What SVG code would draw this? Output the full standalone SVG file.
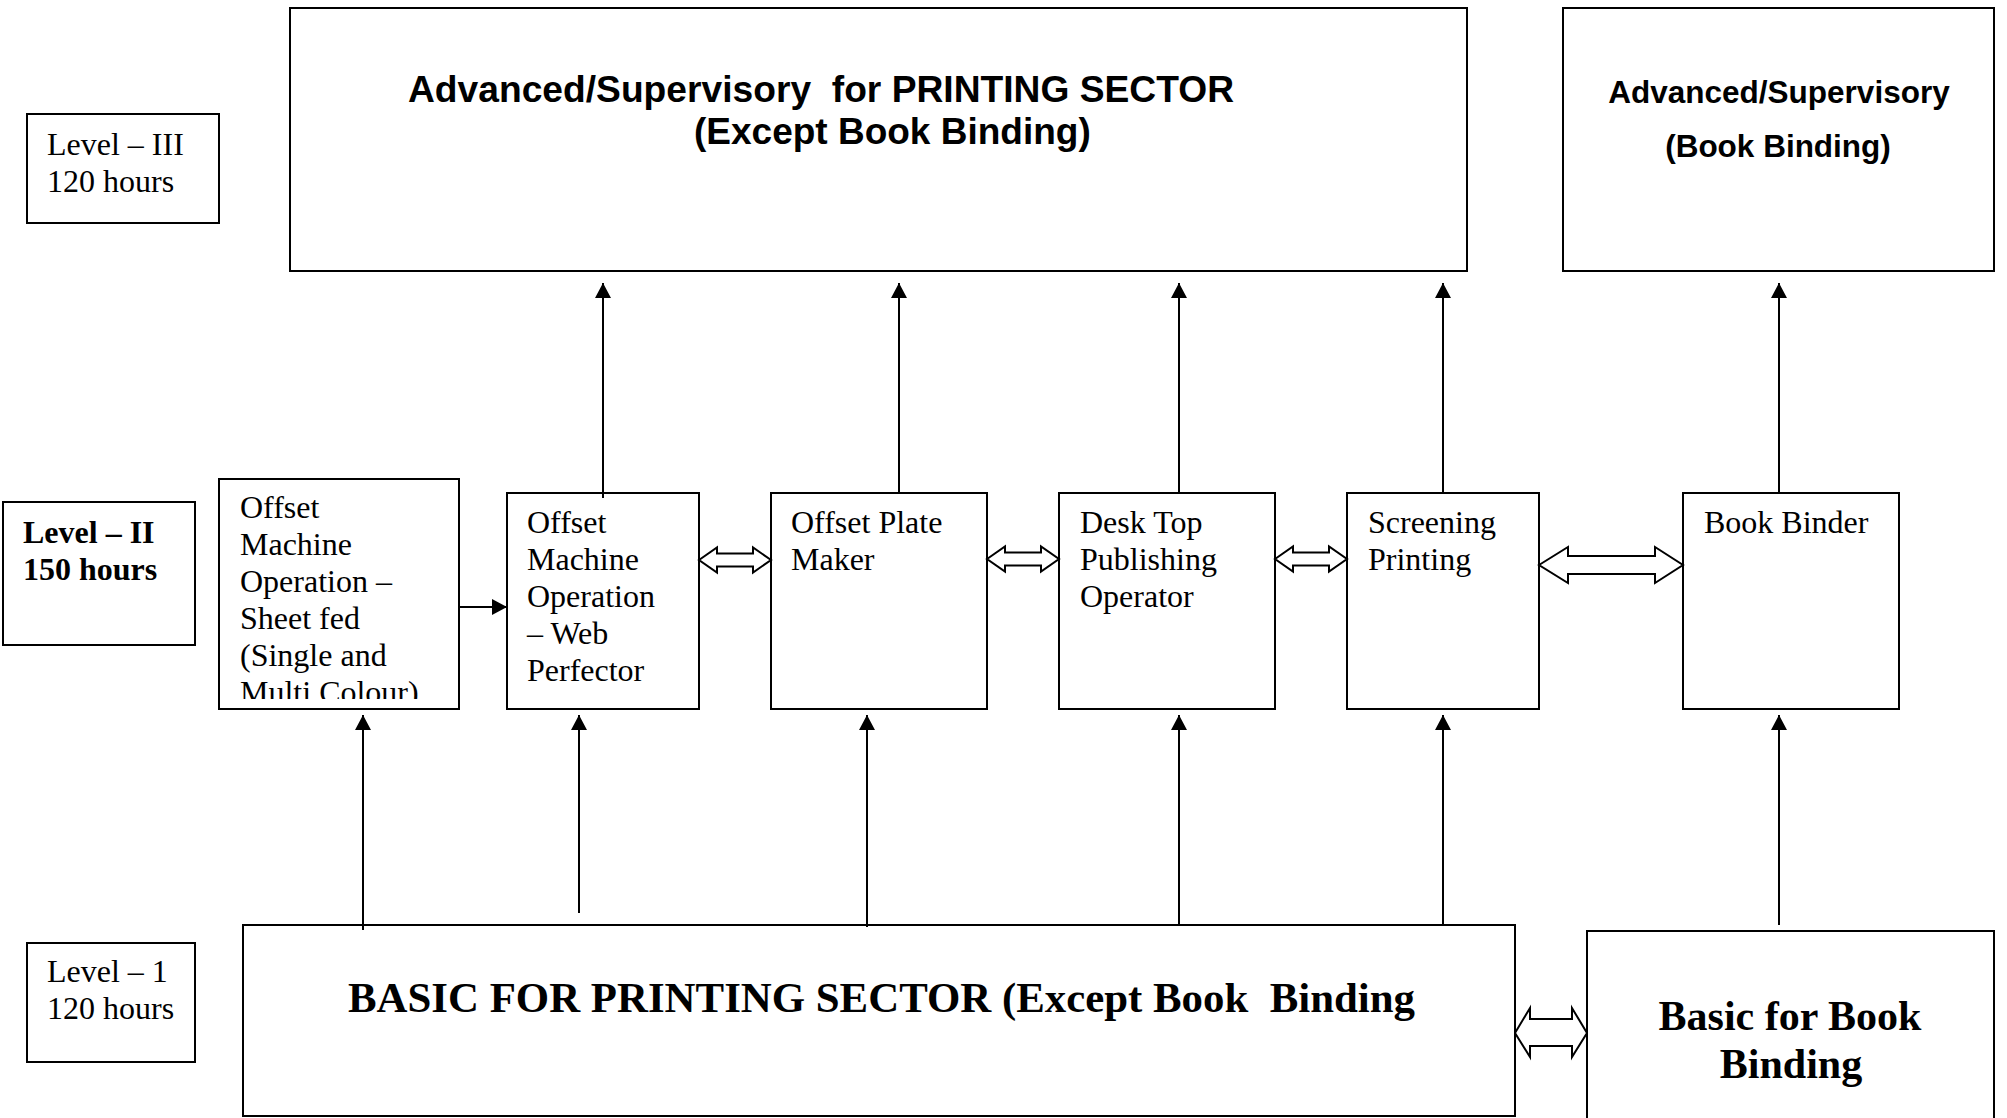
<svg xmlns="http://www.w3.org/2000/svg" width="2007" height="1118" viewBox="0 0 2007 1118">
<style>
.box{fill:#fff;stroke:#000;stroke-width:2}
.t{font-family:"Liberation Serif","Times New Roman",serif;font-size:32px;fill:#000}
.tb{font-family:"Liberation Serif","Times New Roman",serif;font-weight:bold;fill:#000;white-space:pre}
.sb{font-family:"Liberation Sans",Arial,sans-serif;font-weight:bold;fill:#000;white-space:pre}
.ln{stroke:#000;stroke-width:2;fill:none}
.hol{fill:#fff;stroke:#000;stroke-width:2;stroke-linejoin:miter}
</style>
<defs>
<marker id="ah" viewBox="0 0 15 16" refX="15" refY="8" markerWidth="15" markerHeight="16" markerUnits="userSpaceOnUse" orient="auto">
<path d="M0,0 L15,8 L0,16 Z" fill="#000"/>
</marker>
<path id="dbl" d="M0,0 L18,-12.5 L18,-6.5 L54,-6.5 L54,-12.5 L72,0 L54,12.5 L54,6.5 L18,6.5 L18,12.5 Z"/>
<clipPath id="clipSheet"><rect x="219" y="479" width="240" height="220"/></clipPath>
</defs>
<rect width="2007" height="1118" fill="#fff"/>

<g id="level3">
<rect class="box" x="27" y="114" width="192" height="109"/>
<text class="t" x="47" y="155">Level – III</text>
<text class="t" x="47" y="192">120 hours</text>
</g>

<g id="adv-printing">
<rect class="box" x="290" y="8" width="1177" height="263"/>
<text class="sb" x="408" y="102" font-size="37" textLength="826" lengthAdjust="spacingAndGlyphs">Advanced/Supervisory  for PRINTING SECTOR</text>
<text class="sb" x="694" y="144" font-size="37">(Except Book Binding)</text>
</g>

<g id="adv-bookbinding">
<rect class="box" x="1563" y="8" width="431" height="263"/>
<text class="sb" x="1779" y="103" font-size="31.5" text-anchor="middle">Advanced/Supervisory</text>
<text class="sb" x="1778" y="157" font-size="31.5" text-anchor="middle">(Book Binding)</text>
</g>

<g id="level2">
<rect class="box" x="3" y="502" width="192" height="143"/>
<text class="tb" x="23" y="543" font-size="32">Level – II</text>
<text class="tb" x="23" y="580" font-size="32">150 hours</text>
</g>

<g id="offset-sheet-fed">
<rect class="box" x="219" y="479" width="240" height="230"/>
<g clip-path="url(#clipSheet)">
<text class="t" x="240" y="518">Offset</text>
<text class="t" x="240" y="555">Machine</text>
<text class="t" x="240" y="592">Operation –</text>
<text class="t" x="240" y="629">Sheet fed</text>
<text class="t" x="240" y="666">(Single and</text>
<text class="t" x="240" y="703">Multi Colour)</text>
</g>
</g>

<g id="offset-web">
<rect class="box" x="507" y="493" width="192" height="216"/>
<text class="t" x="527" y="533">Offset</text>
<text class="t" x="527" y="570">Machine</text>
<text class="t" x="527" y="607">Operation</text>
<text class="t" x="527" y="644">– Web</text>
<text class="t" x="527" y="681">Perfector</text>
</g>

<g id="plate-maker">
<rect class="box" x="771" y="493" width="216" height="216"/>
<text class="t" x="791" y="533">Offset Plate</text>
<text class="t" x="791" y="570">Maker</text>
</g>

<g id="dtp">
<rect class="box" x="1059" y="493" width="216" height="216"/>
<text class="t" x="1080" y="533">Desk Top</text>
<text class="t" x="1080" y="570">Publishing</text>
<text class="t" x="1080" y="607">Operator</text>
</g>

<g id="screening">
<rect class="box" x="1347" y="493" width="192" height="216"/>
<text class="t" x="1368" y="533">Screening</text>
<text class="t" x="1368" y="570">Printing</text>
</g>

<g id="book-binder">
<rect class="box" x="1683" y="493" width="216" height="216"/>
<text class="t" x="1704" y="533">Book Binder</text>
</g>

<g id="level1">
<rect class="box" x="27" y="943" width="168" height="119"/>
<text class="t" x="47" y="982">Level – 1</text>
<text class="t" x="47" y="1019">120 hours</text>
</g>

<g id="basic-printing">
<rect class="box" x="243" y="925" width="1272" height="191"/>
<text class="tb" x="348" y="1012" font-size="43" textLength="1067" lengthAdjust="spacingAndGlyphs">BASIC FOR PRINTING SECTOR (Except Book  Binding</text>
</g>

<g id="basic-bookbinding">
<rect class="box" x="1587" y="931" width="407" height="200"/>
<text class="tb" x="1790" y="1030" font-size="42" text-anchor="middle">Basic for Book</text>
<text class="tb" x="1791" y="1078" font-size="42" text-anchor="middle">Binding</text>
</g>

<g id="connectors">
<line class="ln" x1="603" y1="498" x2="603" y2="283" marker-end="url(#ah)"/>
<line class="ln" x1="899" y1="493" x2="899" y2="283" marker-end="url(#ah)"/>
<line class="ln" x1="1179" y1="493" x2="1179" y2="283" marker-end="url(#ah)"/>
<line class="ln" x1="1443" y1="493" x2="1443" y2="283" marker-end="url(#ah)"/>
<line class="ln" x1="1779" y1="493" x2="1779" y2="283" marker-end="url(#ah)"/>

<line class="ln" x1="459" y1="607" x2="507" y2="607" marker-end="url(#ah)"/>

<line class="ln" x1="363" y1="930" x2="363" y2="715" marker-end="url(#ah)"/>
<line class="ln" x1="579" y1="913" x2="579" y2="715" marker-end="url(#ah)"/>
<line class="ln" x1="867" y1="927" x2="867" y2="715" marker-end="url(#ah)"/>
<line class="ln" x1="1179" y1="925" x2="1179" y2="715" marker-end="url(#ah)"/>
<line class="ln" x1="1443" y1="925" x2="1443" y2="715" marker-end="url(#ah)"/>
<line class="ln" x1="1779" y1="925" x2="1779" y2="715" marker-end="url(#ah)"/>

<use href="#dbl" class="hol" x="699" y="560"/>
<use href="#dbl" class="hol" x="987" y="559"/>
<use href="#dbl" class="hol" x="1275" y="559"/>
<path class="hol" d="M1539,565 L1568,547 L1568,556 L1655,556 L1655,547 L1683,565 L1655,583 L1655,574 L1568,574 L1568,583 Z"/>
<path class="hol" d="M1515,1033 L1530,1008 L1530,1019 L1572,1019 L1572,1008 L1587,1033 L1572,1057 L1572,1046 L1530,1046 L1530,1057 Z"/>
</g>
</svg>
